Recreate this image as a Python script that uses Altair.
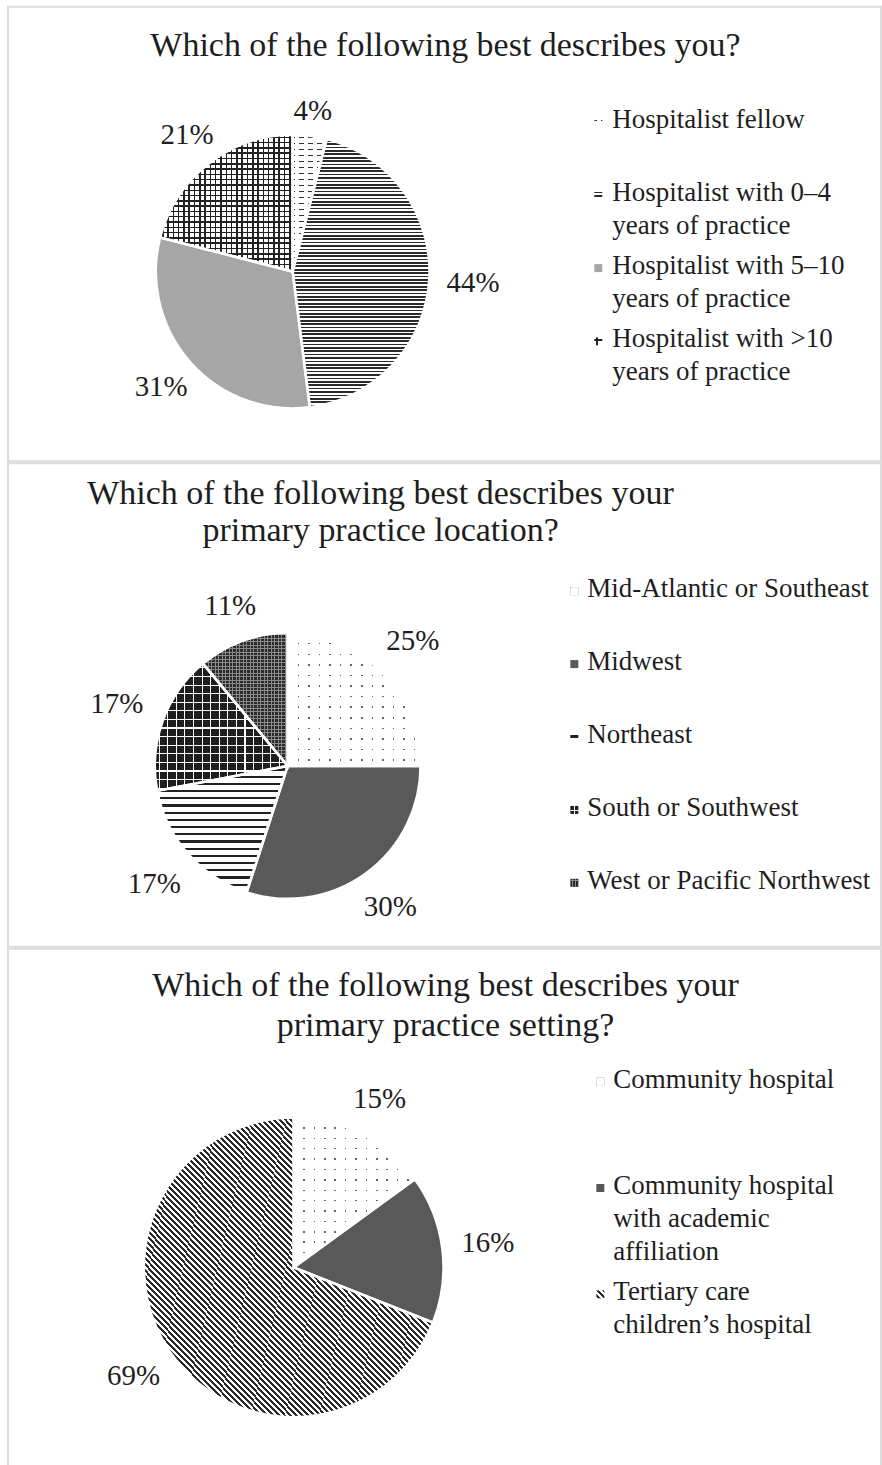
import math
import altair as alt
import pandas as pd

FONT = "Liberation Serif"
TEXT = "#1e1e1e"

# ---------------- data ----------------
titles = [
    "Which of the following best describes you?",
    "Which of the following best describes your\nprimary practice location?",
    "Which of the following best describes your\nprimary practice setting?",
]

p1_categories = ["Hospitalist fellow", "Hospitalist with 0–4 years of practice",
                 "Hospitalist with 5–10 years of practice", "Hospitalist with >10 years of practice"]
p1_legend = ["Hospitalist fellow", "Hospitalist with 0–4\nyears of practice",
             "Hospitalist with 5–10\nyears of practice", "Hospitalist with >10\nyears of practice"]
p1_values = [4, 44, 31, 21]

p2_categories = ["Mid-Atlantic or Southeast", "Midwest", "Northeast",
                 "South or Southwest", "West or Pacific Northwest"]
p2_legend = ["Mid-Atlantic or Southeast", "Midwest", "Northeast",
             "South or Southwest", "West or Pacific Northwest"]
p2_values = [25, 30, 17, 17, 11]

p3_categories = ["Community hospital", "Community hospital with academic affiliation",
                 "Tertiary care children’s hospital"]
p3_legend = ["Community hospital", "Community hospital\nwith academic\naffiliation",
             "Tertiary care\nchildren’s hospital"]
p3_values = [15, 16, 69]

# ---------------- pattern helpers (style) ----------------
CLEAR = "rgba(255,255,255,0)"


def grad(direction, period, on, color, w, h, bg=CLEAR):
    if direction == "h":
        length = h
        c = dict(x1=0, y1=0, x2=0, y2=1)
    elif direction == "v":
        length = w
        c = dict(x1=0, y1=0, x2=1, y2=0)
    else:
        length = 2.0 / math.sqrt(1.0 / w ** 2 + 1.0 / h ** 2)
        c = dict(x1=0, y1=1, x2=1, y2=0)
    length = max(length, 1.0)
    stops = []

    def add(o, col):
        stops.append({"offset": round(min(max(o, 0.0), 1.0), 5), "color": col})

    add(0, bg)
    k = 0
    while True:
        s = (k * period + period / 2 - on / 2) / length
        if s >= 1:
            break
        e = s + on / length
        add(s, bg)
        add(s, color)
        add(e, color)
        add(e, bg)
        k += 1
    add(1, bg)
    return dict(gradient="linear", stops=stops, **c)


def solid(color):
    return lambda w, h: [color]


def hlines(period, on, color, bg="white"):
    return lambda w, h: [bg, grad("h", period, on, color, w, h)]


def grid(period, on, color, bg):
    return lambda w, h: [bg, grad("h", period, on, color, w, h), grad("v", period, on, color, w, h)]


def dashes(period, on, color, gap_period, gap):
    return lambda w, h: ["white", grad("h", period, on, color, w, h),
                         grad("v", gap_period, gap, "white", w, h)]


def dots(period, dot, color):
    return lambda w, h: [color, grad("h", period, period - dot, "white", w, h),
                         grad("v", period, period - dot, "white", w, h)]


def diag(period, on, color):
    return lambda w, h: ["white", grad("d", period, on, color, w, h)]


p1_patterns = [dashes(6, 1.6, "#333333", 9, 4), hlines(3.4, 1.7, "#2b2b2b"),
               solid("#a6a6a6"), grid(5.3, 1.5, "#222222", "white")]
p2_patterns = [dots(10.6, 1.5, "#666666"), solid("#595959"), hlines(7.2, 2.2, "#222222"),
               grid(8.6, 1.1, "white", "#1e1e1e"), grid(3.5, 0.8, "#8a8a8a", "#2a2a2a")]
p3_patterns = [dots(10.4, 1.5, "#666666"), solid("#595959"), diag(4.2, 2.1, "#2a2a2a")]

# label radius = R + la + lb * |sin(mid angle)|
geoms = [
    dict(cx=285, cy=265, R=137, la=22, lb=22, mx=591, tx=605, ly0=115, lstep=73.3,
         tcx=438, ty=22, tlh=38, height=455),
    dict(cx=280, cy=303, R=133, la=30, lb=20, mx=567, tx=580, ly0=128, lstep=73,
         tcx=373, ty=14, tlh=37, height=484),
    dict(cx=286, cy=319, R=150, la=34, lb=12, mx=593, tx=606, ly0=133, lstep=106.5,
         tcx=438, ty=20, tlh=40, height=521),
]


def slice_bbox(a0, a1, R):
    pts = [(0.0, 0.0)]
    angs = [a0, a1] + [k * 90 for k in range(5) if a0 < k * 90 < a1]
    for a in angs:
        r = math.radians(a)
        pts.append((R * math.sin(r), -R * math.cos(r)))
    xs = [p[0] for p in pts]
    ys = [p[1] for p in pts]
    return max(xs) - min(xs), max(ys) - min(ys)


def panel(title, cats, legend, values, pats, g):
    df = pd.DataFrame({"category": cats, "legend": legend, "value": values,
                       "order": list(range(len(cats)))})

    def base():
        return (alt.Chart(df)
                .transform_window(cum="sum(value)", sort=[alt.SortField("order")], frame=[None, 0])
                .transform_calculate(start="datum.cum - datum.value",
                                     mid="datum.cum - datum.value / 2",
                                     pct="datum.value + '%'",
                                     ly=f"{g['ly0']} + datum.order * {g['lstep']}",
                                     lyt=f"{g['ly0']} - 15 + datum.order * {g['lstep']}")
                .transform_calculate(
                    lr=f"{g['R']} + {g['la']} + {g['lb']} * abs(sin(datum.mid / 100 * 2 * PI))"))

    tscale = alt.Scale(domain=[0, 100])
    layers = []
    cum = 0
    for c, v, p in zip(cats, values, pats):
        a0, a1 = cum * 3.6, (cum + v) * 3.6
        cum += v
        w, h = slice_bbox(a0, a1, g["R"])
        for f in p(w, h):
            layers.append(
                base().transform_filter(alt.datum.category == c)
                .mark_arc(radius=g["R"], fill=f, strokeWidth=0)
                .encode(theta=alt.Theta("start:Q", scale=tscale), theta2="cum:Q",
                        x=alt.value(g["cx"]), y=alt.value(g["cy"]))
            )
        for f in p(8, 8):
            layers.append(
                base().transform_filter(alt.datum.category == c)
                .mark_square(size=64, fill=f, opacity=1, strokeWidth=0)
                .encode(x=alt.value(g["mx"]), y=alt.Y("ly:Q", scale=None, axis=None))
            )
    # white separators between slices
    layers.append(
        base().mark_arc(radius=g["R"], fill="white", fillOpacity=0, stroke="white", strokeWidth=2.5)
        .encode(theta=alt.Theta("start:Q", scale=tscale), theta2="cum:Q",
                x=alt.value(g["cx"]), y=alt.value(g["cy"]))
    )
    # percentage labels
    layers.append(
        base().mark_text(font=FONT, fontSize=29, color=TEXT, align="center", baseline="middle")
        .encode(theta=alt.Theta("mid:Q", scale=tscale, stack=None),
                radius=alt.Radius("lr:Q", scale=None), text="pct:N",
                x=alt.value(g["cx"]), y=alt.value(g["cy"]))
    )
    # legend labels
    layers.append(
        base().mark_text(font=FONT, fontSize=27, color=TEXT, align="left", baseline="top",
                         lineBreak="\n", lineHeight=33)
        .encode(x=alt.value(g["tx"]), y=alt.Y("lyt:Q", scale=None, axis=None), text="legend:N")
    )
    # title
    layers.append(
        alt.Chart(pd.DataFrame({"t": [title]}))
        .mark_text(font=FONT, fontSize=34, color=TEXT, align="center", baseline="top",
                   lineBreak="\n", lineHeight=g["tlh"])
        .encode(text="t:N", x=alt.value(g["tcx"]), y=alt.value(g["ty"]))
    )
    return alt.layer(*layers).properties(width=874, height=g["height"])


chart = alt.vconcat(
    panel(titles[0], p1_categories, p1_legend, p1_values, p1_patterns, geoms[0]),
    panel(titles[1], p2_categories, p2_legend, p2_values, p2_patterns, geoms[1]),
    panel(titles[2], p3_categories, p3_legend, p3_values, p3_patterns, geoms[2]),
    spacing=0,
).properties(
    padding={"left": 7, "top": 5, "right": 0, "bottom": 0},
    background="white",
).configure_view(stroke="#dcdcdc", strokeWidth=2)

chart.save("out.html", embed_options={"renderer": "svg", "actions": False})
